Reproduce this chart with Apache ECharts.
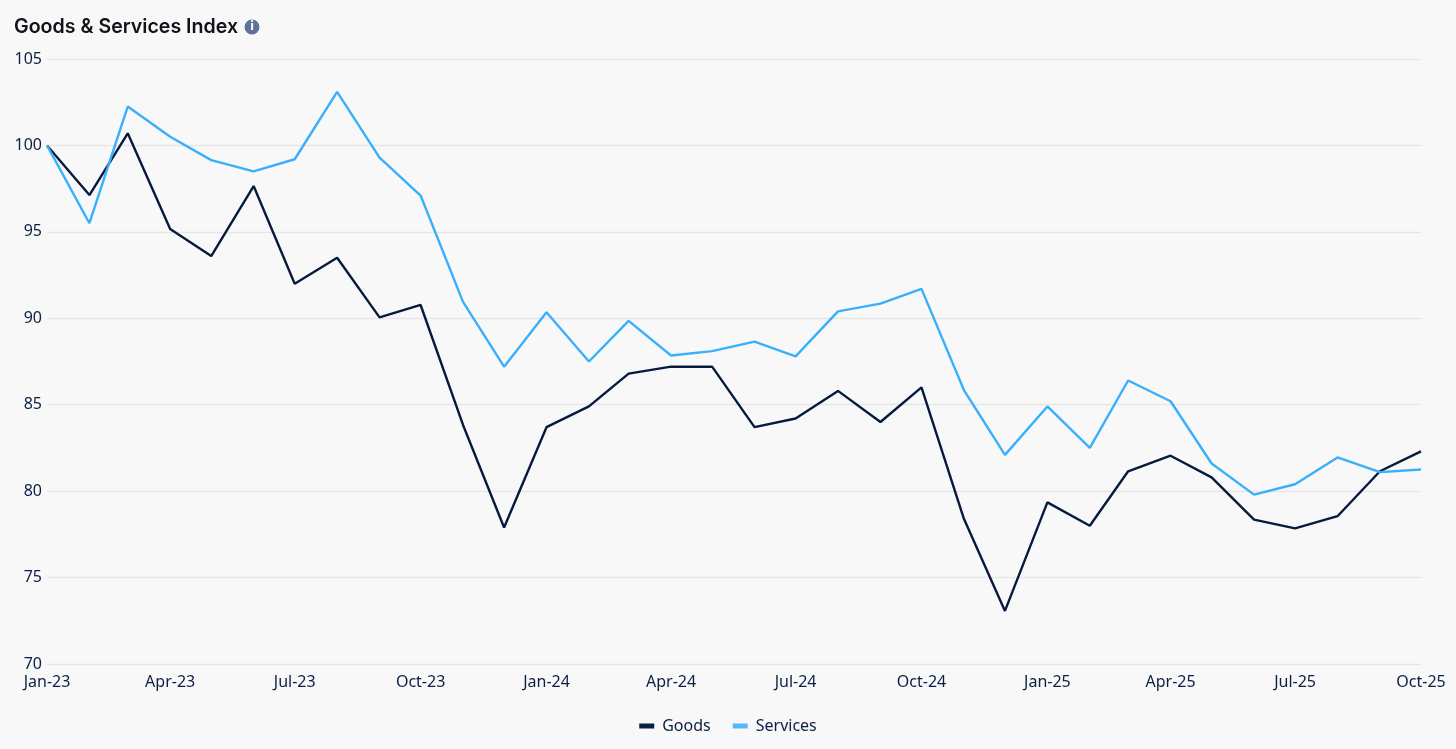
<!DOCTYPE html>
<html><head><meta charset="utf-8">
<style>html,body{margin:0;padding:0;background:#f8f8f9}#c{width:1456px;height:749px}</style>
<script src="https://cdn.jsdelivr.net/npm/echarts@6/dist/echarts.min.js"></script>
</head><body><div id="c"></div>
<script>
const dates=['2023-01-01','2023-02-01','2023-03-01','2023-04-01','2023-05-01','2023-06-01','2023-07-01','2023-08-01','2023-09-01','2023-10-01','2023-11-01','2023-12-01','2024-01-01','2024-02-01','2024-03-01','2024-04-01','2024-05-01','2024-06-01','2024-07-01','2024-08-01','2024-09-01','2024-10-01','2024-11-01','2024-12-01','2025-01-01','2025-02-01','2025-03-01','2025-04-01','2025-05-01','2025-06-01','2025-07-01','2025-08-01','2025-09-01','2025-10-01'];
const goods=[100,97.13,100.7,95.17,93.6,97.65,92.0,93.5,90.05,90.77,83.83,77.9,83.7,84.9,86.8,87.2,87.2,83.7,84.2,85.8,84.0,86.0,78.4,73.07,79.35,78.0,81.15,82.05,80.8,78.35,77.85,78.55,81.15,82.3];
const services=[100,95.5,102.25,100.5,99.15,98.5,99.2,103.1,99.3,97.1,90.95,87.2,90.35,87.5,89.85,87.85,88.1,88.65,87.8,90.4,90.85,91.7,85.85,82.1,84.9,82.5,86.4,85.2,81.6,79.8,80.4,81.95,81.1,81.25];
const tickDates=['2023-01-01','2023-04-01','2023-07-01','2023-10-01','2024-01-01','2024-04-01','2024-07-01','2024-10-01','2025-01-01','2025-04-01','2025-07-01','2025-10-01'];
const tickLabels=['Jan-23','Apr-23','Jul-23','Oct-23','Jan-24','Apr-24','Jul-24','Oct-24','Jan-25','Apr-25','Jul-25','Oct-25'];
const ts=d=>Date.parse(d+'T00:00:00Z');
const tickTs=tickDates.map(ts);
const chart=echarts.init(document.getElementById('c'));
const ink='#0b1f42';
chart.setOption({
 backgroundColor:'#f8f8f9',animation:false,
 title:{text:'Goods & Services Index',left:14,top:17,padding:0,textStyle:{fontFamily:'Inter',fontSize:19.6,fontWeight:600,color:'#111318'}},
 graphic:[
  {type:'circle',shape:{cx:252,cy:27,r:7.5},style:{fill:'#5d7398'}},
  {type:'text',x:252,y:27,style:{text:'i',fill:'#f8f8f9',font:'bold 12px "DejaVu Sans"',align:'center',verticalAlign:'middle'}}
 ],
 legend:{bottom:10,left:'center',icon:'rect',itemWidth:15,itemHeight:5,itemGap:22,data:['Goods','Services'],textStyle:{fontFamily:'Noto Sans',fontSize:16,color:ink,padding:[0,0,0,3]}},
 grid:{left:47,right:35,top:59,bottom:85},
 xAxis:{type:'value',min:ts(dates[0]),max:ts(dates[dates.length-1]),
  axisLine:{show:false},axisTick:{show:false},splitLine:{show:false},
  axisLabel:{margin:10,fontFamily:'Noto Sans',fontSize:16,color:ink,hideOverlap:false,
   customValues:tickTs,
   formatter:v=>tickLabels[tickTs.indexOf(v)]||''}},
 yAxis:{type:'value',min:70,max:105,interval:5,
  axisLine:{show:false},axisTick:{show:false},
  splitLine:{lineStyle:{color:'#e5e6e7',width:1.3}},
  axisLabel:{margin:5,fontFamily:'Noto Sans',fontSize:16,color:ink}},
 series:[
  {name:'Goods',type:'line',data:dates.map((d,i)=>[ts(d),goods[i]]),symbol:'none',z:2,lineStyle:{color:'#061a3e',width:2.4},itemStyle:{color:'#0b1f42'}},
  {name:'Services',type:'line',data:dates.map((d,i)=>[ts(d),services[i]]),symbol:'none',z:3,lineStyle:{color:'#38b0fb',width:2.4},itemStyle:{color:'#56b8fb'}}
 ]
});
</script></body></html>
